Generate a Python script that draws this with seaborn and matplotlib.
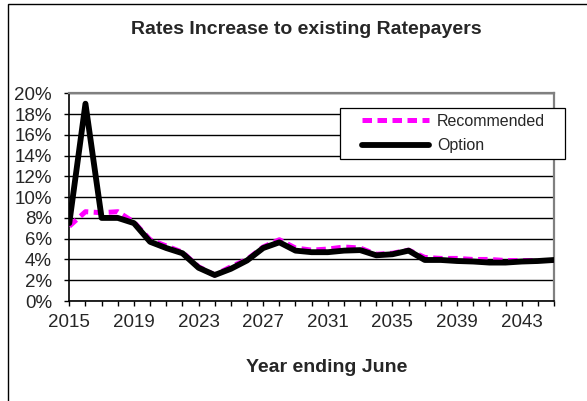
import seaborn as sns
import matplotlib.pyplot as plt
from matplotlib.patches import Rectangle
from matplotlib.ticker import MultipleLocator, FuncFormatter

# data (percent)
years = list(range(2015, 2046))
recommended = [7.2, 8.6, 8.5, 8.6, 7.6, 5.9, 5.3, 4.7, 3.3, 2.5, 3.3, 4.0, 5.2, 5.9,
               5.1, 4.9, 5.0, 5.2, 5.1, 4.5, 4.6, 4.9, 4.2, 4.1, 4.1, 4.0, 4.0, 3.9,
               3.9, 3.9, 3.9]
option = [7.5, 19.0, 8.0, 8.0, 7.5, 5.7, 5.1, 4.6, 3.2, 2.5, 3.1, 3.9, 5.1, 5.65,
          4.85, 4.7, 4.7, 4.85, 4.9, 4.4, 4.5, 4.85, 3.95, 3.95, 3.85, 3.8, 3.7, 3.7,
          3.8, 3.85, 3.95]
label_years = list(range(2015, 2046, 4))

sns.set_theme(style="white")
plt.rcParams['font.family'] = ['Liberation Sans', 'DejaVu Sans']

W, H = 587, 401
fig = plt.figure(figsize=(W / 100, H / 100), dpi=100)
ax = fig.add_axes([69.3 / W, 1 - 301 / H, (554 - 69.3) / W, (301 - 93.3) / H])

# gridlines
ax.yaxis.grid(True, color="black", lw=1.0)
ax.set_axisbelow(True)

sns.lineplot(x=years, y=recommended, ax=ax, color="#FF00FF", lw=3.6,
             linestyle=(0, (1.9, 1.1)), label="Recommended", zorder=3)
sns.lineplot(x=years, y=option, ax=ax, color="black", lw=4.2,
             label="Option", zorder=3.5)

ax.set_xlim(2015, 2045)
ax.set_ylim(0, 20)
ax.set_xticks(label_years)
ax.xaxis.set_minor_locator(MultipleLocator(1))
ax.yaxis.set_major_locator(MultipleLocator(2))
ax.yaxis.set_major_formatter(FuncFormatter(lambda v, p: f"{v:.0f}%"))
ax.set_xlabel("")
ax.set_ylabel("")

ax.tick_params(axis="x", which="both", direction="out", length=3.6, width=1,
               color="black", bottom=True, labelsize=13.5, pad=6)
ax.tick_params(axis="y", which="major", direction="out", length=3.4, width=1,
               color="black", left=True, labelsize=13.5, pad=9)

for s in ["left", "bottom"]:
    ax.spines[s].set_color("black")
    ax.spines[s].set_linewidth(1.2)
for s in ["top", "right"]:
    ax.spines[s].set_color("#808080")
    ax.spines[s].set_linewidth(1.6)

# legend box
x0 = (340 - 69.3) / 484.7
x1 = (565 - 69.3) / 484.7
y0 = (301 - 159) / 207.7
y1 = (301 - 108) / 207.7
ax.add_patch(Rectangle((x0, y0), x1 - x0, y1 - y0, transform=ax.transAxes,
                       facecolor="white", edgecolor="black", lw=0.9,
                       clip_on=False, zorder=4.5))
leg = ax.legend(loc="upper left", bbox_to_anchor=((362 - 69.3) / 484.7, (301 - 113.5) / 207.7),
                frameon=False, fontsize=11.5, borderpad=0, borderaxespad=0,
                handlelength=4.2, handletextpad=0.5, labelspacing=0.62)
leg.set_zorder(5)

fig.text(306 / W, 1 - 30 / H, "Rates Increase to existing Ratepayers",
         ha="center", va="center", fontsize=14, fontweight="bold")
fig.text(327 / W, 1 - 367 / H, "Year ending June",
         ha="center", va="center", fontsize=14, fontweight="bold")

# outer chart border (left and top edges visible)
fig.add_artist(Rectangle((8 / W, -0.1), 1.2, 1.1 - 4.3 / H, transform=fig.transFigure,
                         facecolor="none", edgecolor="black", lw=1.0, clip_on=False))

fig.savefig("out.png", dpi=100)
